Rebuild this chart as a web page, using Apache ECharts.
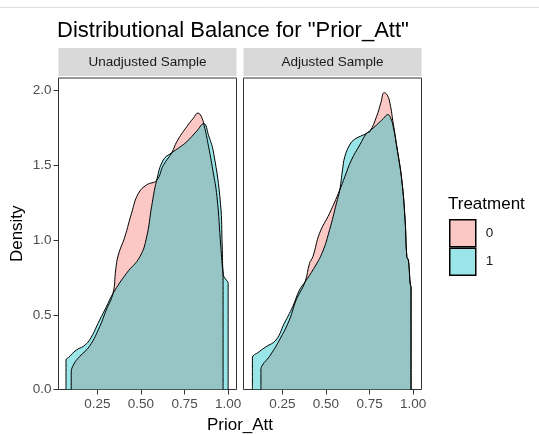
<!DOCTYPE html>
<html>
<head>
<meta charset="utf-8">
<script src="https://cdn.jsdelivr.net/npm/echarts@6/dist/echarts.min.js"></script>
<style>
html,body{margin:0;padding:0;background:#fff;}
#chart{width:539px;height:435px;}
</style>
</head>
<body>
<div id="chart"></div>
<script>
// ---- data ----
const panels = ['Unadjusted Sample', 'Adjusted Sample'];
const groups = ['0', '1'];
const xTicks = [0.25, 0.5, 0.75, 1.0];
const yTicks = [0, 0.5, 1.0, 1.5, 2.0];

// Unadjusted, Treatment 0
const unadjX0 = [0.100,0.100,0.115,0.148,0.205,0.263,0.300,0.340,0.355,0.370,0.407,0.446,0.484,0.533,0.590,0.628,0.677,0.706,0.763,0.800,0.827,0.845,0.862,0.888,0.912,0.936,0.958,0.967,0.971,0.971];
const unadjY0 = [0,0.11,0.17,0.22,0.29,0.42,0.53,0.645,0.80,0.90,1.02,1.18,1.31,1.37,1.40,1.50,1.585,1.66,1.76,1.815,1.85,1.83,1.77,1.625,1.47,1.29,0.956,0.82,0.76,0];
// Unadjusted, Treatment 1
const unadjX1 = [0.070,0.070,0.085,0.129,0.170,0.205,0.263,0.300,0.340,0.417,0.494,0.533,0.561,0.590,0.628,0.677,0.720,0.763,0.820,0.860,0.888,0.917,0.956,0.966,0.972,0.985,1.000,1.000];
const unadjY1 = [0,0.197,0.215,0.264,0.29,0.331,0.465,0.55,0.644,0.778,0.889,1.023,1.224,1.40,1.536,1.585,1.62,1.659,1.73,1.78,1.70,1.581,1.246,0.96,0.77,0.74,0.71,0];
// Adjusted, Treatment 0
const adjX0 = [0.127,0.127,0.136,0.175,0.233,0.290,0.329,0.380,0.406,0.425,0.463,0.521,0.579,0.608,0.646,0.694,0.733,0.752,0.790,0.815,0.834,0.852,0.867,0.886,0.906,0.935,0.954,0.964,0.973,0.983,0.988,0.988];
const adjY0 = [0,0.13,0.164,0.22,0.331,0.465,0.599,0.72,0.845,0.889,1.045,1.18,1.335,1.424,1.536,1.637,1.715,1.726,1.826,1.92,1.987,1.97,1.916,1.78,1.63,1.40,1.13,0.89,0.86,0.71,0.68,0];
// Adjusted, Treatment 1
const adjX1 = [0.078,0.078,0.117,0.156,0.213,0.261,0.309,0.348,0.380,0.430,0.480,0.521,0.560,0.579,0.595,0.608,0.636,0.665,0.713,0.733,0.790,0.830,0.855,0.870,0.886,0.906,0.935,0.954,0.964,0.973,0.983,0.988,0.988];
const adjY1 = [0,0.209,0.253,0.286,0.331,0.443,0.554,0.666,0.72,0.81,0.92,1.07,1.246,1.335,1.47,1.558,1.637,1.675,1.703,1.715,1.77,1.815,1.84,1.82,1.759,1.625,1.402,1.134,0.889,0.867,0.711,0.68,0];

// ---- styling / layout ----
const FONT = 'Liberation Sans, Arial, sans-serif';
const fills = ['rgba(248,118,109,0.4)', 'rgba(0,191,196,0.4)'];
const gridTop = 78, gridH = 311.5, gridW = 178;
const gridLefts = [58.5, 243.5];
const xMin = 0.027, xMax = 1.048, yMin = 0, yMax = 2.085;

function zip(xs, ys) { return xs.map((x, i) => [x, ys[i]]); }

const curveSets = [
  [zip(unadjX0, unadjY0), zip(unadjX1, unadjY1)],
  [zip(adjX0, adjY0), zip(adjX1, adjY1)]
];

const series = [];
curveSets.forEach((set, p) => {
  set.forEach((data, g) => {
    series.push({
      type: 'line', name: groups[g], xAxisIndex: p, yAxisIndex: p,
      data: data, smooth: 0.45,
      symbol: 'none', showSymbol: false, animation: false,
      lineStyle: { color: '#000', width: 1 },
      itemStyle: { color: fills[g] },
      areaStyle: { color: fills[g], opacity: 1 }
    });
  });
});

const chart = echarts.init(document.getElementById('chart'), null, { renderer: 'canvas' });

const graphics = [
  { type: 'line', shape: { x1: 0, y1: 7.5, x2: 539, y2: 7.5 }, style: { stroke: '#dedede', lineWidth: 1 } }
];
panels.forEach((name, p) => {
  graphics.push({ type: 'rect', shape: { x: gridLefts[p], y: 48, width: gridW, height: 28 }, style: { fill: '#D9D9D9' } });
  graphics.push({ type: 'text', x: gridLefts[p] + gridW / 2, y: 62,
    style: { text: name, align: 'center', verticalAlign: 'middle', fontSize: 13.5, fontFamily: FONT, fill: '#1A1A1A' } });
});
graphics.push({ type: 'text', x: 17, y: gridTop + gridH / 2, rotation: Math.PI / 2,
  style: { text: 'Density', align: 'center', verticalAlign: 'middle', fontSize: 17, fontFamily: FONT, fill: '#000' } });
graphics.push({ type: 'text', x: (gridLefts[0] + gridLefts[1] + gridW) / 2, y: 425,
  style: { text: 'Prior_Att', align: 'center', verticalAlign: 'middle', fontSize: 17, fontFamily: FONT, fill: '#000' } });
graphics.push({ type: 'text', x: 448, y: 204,
  style: { text: 'Treatment', align: 'left', verticalAlign: 'middle', fontSize: 17, fontFamily: FONT, fill: '#000' } });

function xAxisCfg(p) {
  return {
    gridIndex: p, type: 'value', min: xMin, max: xMax,
    axisLine: { show: false }, splitLine: { show: false },
    axisTick: { show: true, length: 5, customValues: xTicks, lineStyle: { color: '#333', width: 1 } },
    axisLabel: { customValues: xTicks, formatter: v => v.toFixed(2), color: '#4D4D4D', fontSize: 13.5, fontFamily: FONT, margin: 8 }
  };
}
function yAxisCfg(p) {
  return {
    gridIndex: p, type: 'value', min: yMin, max: yMax,
    axisLine: { show: false }, splitLine: { show: false },
    axisTick: { show: p === 0, length: 5, customValues: yTicks, lineStyle: { color: '#333', width: 1 } },
    axisLabel: { show: p === 0, customValues: yTicks, formatter: v => v.toFixed(1), color: '#4D4D4D', fontSize: 13.5, fontFamily: FONT, margin: 7 }
  };
}

chart.setOption({
  backgroundColor: '#fff',
  animation: false,
  title: {
    text: 'Distributional Balance for "Prior_Att"', left: 57, top: 20, padding: 0,
    textStyle: { fontSize: 22, fontWeight: 'normal', color: '#000', fontFamily: FONT }
  },
  legend: {
    data: groups.map((g, i) => ({ name: g, itemStyle: { color: fills[i], borderColor: '#000', borderWidth: 1.5 } })),
    orient: 'vertical', left: 449, top: 219, padding: 0,
    itemWidth: 26, itemHeight: 27, itemGap: 0, icon: 'rect', selectedMode: false,
    textStyle: { fontSize: 13.5, color: '#1A1A1A', fontFamily: FONT, padding: [0, 0, 0, 5] }
  },
  grid: gridLefts.map(l => ({ left: l, top: gridTop, width: gridW, height: gridH, show: true, borderColor: '#333', borderWidth: 1, backgroundColor: 'transparent', containLabel: false })),
  xAxis: [xAxisCfg(0), xAxisCfg(1)],
  yAxis: [yAxisCfg(0), yAxisCfg(1)],
  series: series,
  graphic: graphics
});
</script>
</body>
</html>
